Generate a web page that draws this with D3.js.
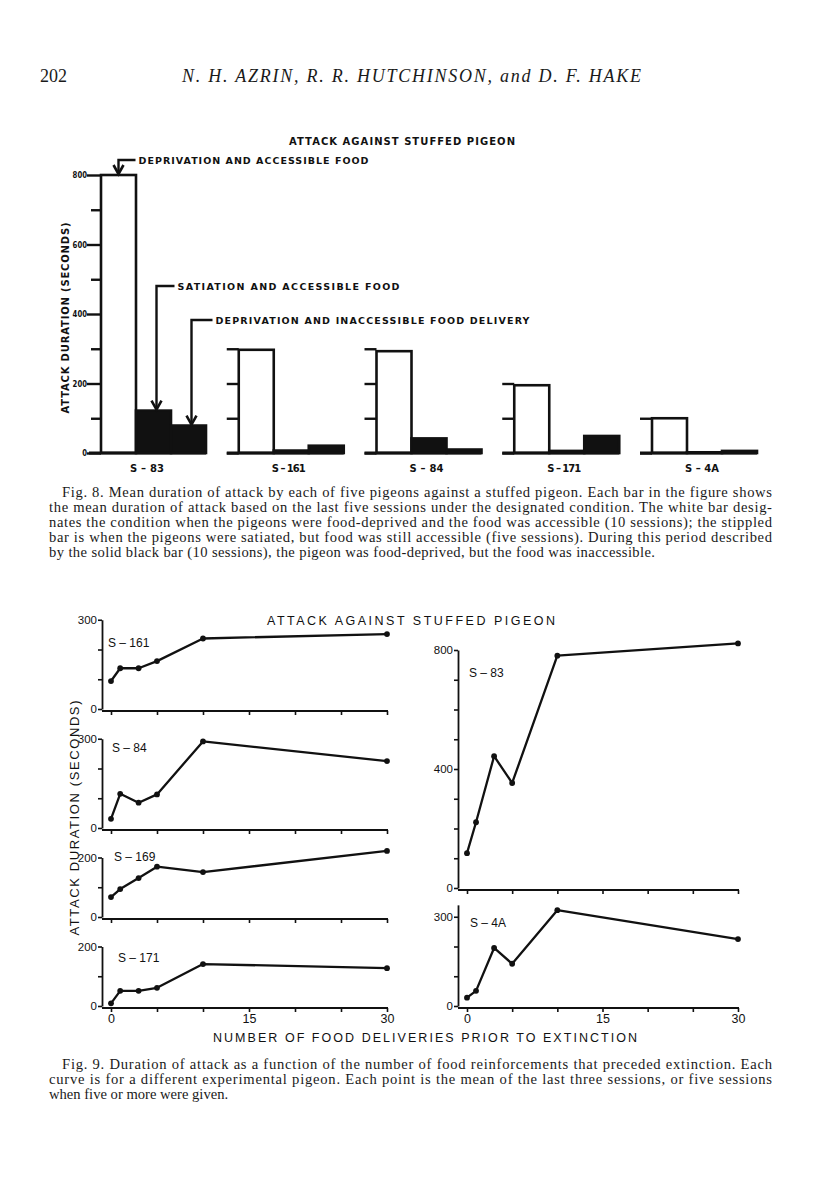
<!DOCTYPE html>
<html>
<head>
<meta charset="utf-8">
<script src="https://cdn.jsdelivr.net/npm/d3@7"></script>
<style>
    body { margin: 0; background: #fff; }
    .serif { font-family: "Liberation Serif", "DejaVu Serif", serif; fill: #1a1a1a; }
    .heavy { font-family: "DejaVu Sans", sans-serif; font-weight: bold; fill: #111; }
    .plain { font-family: "Liberation Sans", Arial, sans-serif; fill: #111; }
</style>
</head>
<body>
<script>
//page frame dimensions
var width = 816,
    height = 1200;

//fig. 8 data: mean attack duration (seconds) per subject and condition
var subjects8 = ["S – 83", "S – 161", "S – 84", "S – 171", "S – 4A"];
var conditions = ["DEPRIVATION AND ACCESSIBLE FOOD", "SATIATION AND ACCESSIBLE FOOD", "DEPRIVATION AND INACCESSIBLE FOOD DELIVERY"];
var deprivedAccessible = [800, 297, 293, 195, 100];
var satiatedAccessible = [122, 7, 42, 6, 2];
var deprivedInaccessible = [79, 21, 10, 49, 6];
var axisMax8 = [800, 300, 300, 200, 100];
var yTickLabels8 = [0, 200, 400, 600, 800];

//fig. 9 data: attack duration vs number of food deliveries before extinction
var deliveries = [0, 1, 3, 5, 10, 30];
var s161 = [94, 137, 137, 161, 237, 252];
var s84 = [31, 115, 85, 113, 291, 225];
var s169 = [67, 94, 131, 169, 151, 222];
var s171 = [9, 51, 51, 61, 141, 127];
var s83 = [117, 221, 443, 353, 781, 822];
var s4a = [28, 51, 195, 142, 322, 225];
var xTicks9 = [0, 5, 10, 15, 20, 25, 30];
var xTickLabels9 = [0, 15, 30];

//caption text
var caption8 = [
    "Fig. 8. Mean duration of attack by each of five pigeons against a stuffed pigeon. Each bar in the figure shows",
    "the mean duration of attack based on the last five sessions under the designated condition. The white bar desig-",
    "nates the condition when the pigeons were food-deprived and the food was accessible (10 sessions); the stippled",
    "bar is when the pigeons were satiated, but food was still accessible (five sessions). During this period described",
    "by the solid black bar (10 sessions), the pigeon was food-deprived, but the food was inaccessible."
];
var caption9 = [
    "Fig. 9. Duration of attack as a function of the number of food reinforcements that preceded extinction. Each",
    "curve is for a different experimental pigeon. Each point is the mean of the last three sessions, or five sessions",
    "when five or more were given."
];

//create svg container for the page
var svg = d3.select("body")
    .append("svg")
    .attr("width", width)
    .attr("height", height);

//running head
svg.append("text")
    .attr("class", "serif")
    .attr("x", 40).attr("y", 82)
    .attr("font-size", 18)
    .text("202");
svg.append("text")
    .attr("class", "serif")
    .attr("x", 182).attr("y", 82)
    .attr("font-size", 18)
    .attr("font-style", "italic")
    .attr("textLength", 459)
    .attr("lengthAdjust", "spacing")
    .text("N. H. AZRIN, R. R. HUTCHINSON, and D. F. HAKE");

/* ---------------- Fig. 8 ---------------- */
var fig8 = svg.append("g").attr("class", "fig8");

var y8 = d3.scaleLinear().domain([0, 800]).range([453, 175]);
var panel8 = d3.scalePoint().domain(subjects8).range([101, 652]);
var bar8 = d3.scaleBand().domain(conditions).range([0, 105]);

var series8 = subjects8.map(function(s, i){
    return {
        subject: s,
        max: axisMax8[i],
        values: [deprivedAccessible[i], satiatedAccessible[i], deprivedInaccessible[i]]
    };
});

fig8.append("text")
    .attr("class", "heavy")
    .attr("x", 289).attr("y", 145)
    .attr("font-size", 10)
    .attr("textLength", 226)
    .attr("lengthAdjust", "spacing")
    .text("ATTACK AGAINST STUFFED PIGEON");

fig8.append("text")
    .attr("class", "heavy")
    .attr("transform", "translate(69,318) rotate(-90)")
    .attr("text-anchor", "middle")
    .attr("font-size", 10)
    .attr("textLength", 191)
    .attr("lengthAdjust", "spacing")
    .text("ATTACK DURATION (SECONDS)");

var panels8 = fig8.selectAll(".panel8")
    .data(series8)
    .enter()
    .append("g")
    .attr("class", "panel8")
    .attr("transform", function(d){ return "translate(" + panel8(d.subject) + ",0)"; });

//tick marks every 100 s
panels8.each(function(d, i){
    var g = d3.select(this);
    var minor = d3.axisLeft(y8)
        .tickValues(d3.range(0, d.max + 1, 100).filter(function(v){ return i > 0 || yTickLabels8.indexOf(v) < 0; }))
        .tickSize(i == 0 ? 10 : 12)
        .tickFormat("");
    g.append("g").call(minor);
    if (i == 0){
        var major = d3.axisLeft(y8)
            .tickValues(yTickLabels8)
            .tickSize(14)
            .tickPadding(0);
        g.append("g").attr("class", "major8").call(major);
    }
    g.selectAll(".domain").remove();
    g.selectAll(".tick line").attr("stroke", "#111").attr("stroke-width", 2.4);
    g.selectAll(".tick text")
        .attr("class", "heavy")
        .attr("font-size", 9)
        .attr("textLength", function(v){ return String(v).length * 4.8; })
        .attr("lengthAdjust", "spacingAndGlyphs");
});

//bars: white = deprived/accessible, black = the other two conditions
panels8.selectAll(".bar8")
    .data(function(d){
        return d.values.map(function(v, j){ return {cond: conditions[j], value: v, j: j}; });
    })
    .enter()
    .append("rect")
    .attr("class", "bar8")
    .attr("x", function(d){ return bar8(d.cond); })
    .attr("y", function(d){ return y8(d.value); })
    .attr("width", bar8.bandwidth())
    .attr("height", function(d){ return y8(0) - y8(d.value); })
    .attr("fill", function(d){ return d.j == 0 ? "#fff" : "#111"; })
    .attr("stroke", "#111")
    .attr("stroke-width", 2.6);

//baseline
panels8.append("line")
    .attr("x1", -12).attr("x2", 105)
    .attr("y1", y8(0)).attr("y2", y8(0))
    .attr("stroke", "#111")
    .attr("stroke-width", 3.2);

panels8.append("text")
    .attr("class", "heavy")
    .attr("x", function(d, i){ return i == 0 ? 46 : 50; })
    .attr("y", 472)
    .attr("text-anchor", "middle")
    .attr("font-size", 10)
    .attr("textLength", 34)
    .attr("lengthAdjust", "spacing")
    .text(function(d){ return d.subject; });

//condition labels with elbow arrows pointing at the S-83 bars
var labelY8 = [164, 290, 324],
    elbowLen = [17, 18, 21],
    arrowShift = [0, 3, 3],
    labelLen = [230, 222, 314];

conditions.forEach(function(c, j){
    var ax = panel8(subjects8[0]) + bar8(c) + bar8.bandwidth() / 2 + arrowShift[j],
        tip = y8(series8[0].values[j]) - 1,
        ly = labelY8[j] - 4;
    fig8.append("path")
        .attr("d", "M" + (ax + elbowLen[j]) + "," + ly + "H" + ax + "V" + tip)
        .attr("fill", "none")
        .attr("stroke", "#111")
        .attr("stroke-width", 2.4);
    fig8.append("path")
        .attr("d", "M" + (ax - 5) + "," + (tip - 9) + "L" + ax + "," + tip + "L" + (ax + 5) + "," + (tip - 9))
        .attr("fill", "none")
        .attr("stroke", "#111")
        .attr("stroke-width", 2.6);
    fig8.append("text")
        .attr("class", "heavy")
        .attr("x", ax + elbowLen[j] + 3)
        .attr("y", labelY8[j])
        .attr("font-size", 9.5)
        .attr("textLength", labelLen[j])
        .attr("lengthAdjust", "spacing")
        .text(c);
});

//caption lines: full lines justified, last line at its printed width (or natural)
function drawCaption(lines, top, lastLen){
    svg.selectAll(null)
        .data(lines)
        .enter()
        .append("text")
        .attr("class", "serif")
        .attr("font-size", 14.6)
        .attr("x", function(d, i){ return i == 0 ? 62 : 49; })
        .attr("y", function(d, i){ return top + i * 15; })
        .attr("textLength", function(d, i){
            if (i == lines.length - 1) return lastLen;
            return i == 0 ? 710 : 723;
        })
        .attr("lengthAdjust", "spacing")
        .text(function(d){ return d; });
}
drawCaption(caption8, 497, 606);

/* ---------------- Fig. 9 ---------------- */
var fig9 = svg.append("g").attr("class", "fig9");

var pxPerUnit = 0.2975;
var colX = [
    {axis: 102, x: d3.scaleLinear().domain([0, 30]).range([111, 387])},
    {axis: 458, x: d3.scaleLinear().domain([0, 30]).range([467, 738])}
];

var layout9 = [
    {name: "S – 161", values: s161, col: 0, zero: 709, max: 300, top: 300, labels: [0, 300], lx: 108, ly: 647, bottom: false},
    {name: "S – 84",  values: s84,  col: 0, zero: 828, max: 300, top: 300, labels: [0, 300], lx: 112, ly: 752, bottom: false},
    {name: "S – 169", values: s169, col: 0, zero: 917, max: 200, top: 200, labels: [0, 200], lx: 114, ly: 861, bottom: false},
    {name: "S – 171", values: s171, col: 0, zero: 1006, max: 200, top: 200, labels: [0, 200], lx: 118, ly: 962, bottom: true},
    {name: "S – 83",  values: s83,  col: 1, zero: 888, max: 800, top: 800, labels: [0, 400, 800], lx: 469, ly: 677, bottom: false},
    {name: "S – 4A",  values: s4a,  col: 1, zero: 1006, max: 300, top: 340, labels: [0, 300], lx: 470, ly: 927, bottom: true}
];

layout9.forEach(function(p){
    var col = colX[p.col],
        x = col.x,
        y = d3.scaleLinear().domain([0, p.top]).range([p.zero, p.zero - p.top * pxPerUnit]);
    var g = fig9.append("g");

    //y axis
    var yAxis = d3.axisLeft(y)
        .tickValues(d3.range(0, p.max + 1, 100))
        .tickSize(4)
        .tickSizeOuter(0)
        .tickPadding(1)
        .tickFormat(function(v){ return p.labels.indexOf(v) >= 0 ? v : ""; });
    g.append("g")
        .attr("transform", "translate(" + col.axis + ",0)")
        .call(yAxis);

    //x axis
    var xAxis = d3.axisBottom(x)
        .tickValues(xTicks9)
        .tickSize(4)
        .tickSizeOuter(0)
        .tickPadding(2)
        .tickFormat(function(v){ return p.bottom && xTickLabels9.indexOf(v) >= 0 ? v : ""; });
    var xg = g.append("g")
        .attr("transform", "translate(0," + (p.zero + 2) + ")")
        .call(xAxis);
    xg.select(".domain").remove();
    xg.append("line")
        .attr("x1", col.axis).attr("x2", x(30) + 1)
        .attr("stroke", "#111")
        .attr("stroke-width", 1.8);

    g.selectAll(".domain").attr("stroke", "#111").attr("stroke-width", 1.8);
    g.selectAll(".tick line").attr("stroke", "#111").attr("stroke-width", 1.6);
    g.selectAll(".tick text")
        .attr("class", "plain")
        .attr("font-size", 11.5);
    xg.selectAll(".tick text").attr("font-size", 12.5);

    //curve
    var line = d3.line()
        .x(function(d, i){ return x(deliveries[i]); })
        .y(function(d){ return y(d); });
    g.append("path")
        .datum(p.values)
        .attr("d", line)
        .attr("fill", "none")
        .attr("stroke", "#111")
        .attr("stroke-width", 2.3)
        .attr("stroke-linejoin", "round");
    g.selectAll(".dot")
        .data(p.values)
        .enter()
        .append("circle")
        .attr("class", "dot")
        .attr("cx", function(d, i){ return x(deliveries[i]); })
        .attr("cy", function(d){ return y(d); })
        .attr("r", 2.9)
        .attr("fill", "#111");

    //subject label
    g.append("text")
        .attr("class", "plain")
        .attr("x", p.lx).attr("y", p.ly)
        .attr("font-size", 12)
        .text(p.name);
});

fig9.append("text")
    .attr("class", "plain")
    .attr("x", 267).attr("y", 625)
    .attr("font-size", 12.5)
    .attr("textLength", 288)
    .attr("lengthAdjust", "spacing")
    .text("ATTACK AGAINST STUFFED PIGEON");

fig9.append("text")
    .attr("class", "plain")
    .attr("transform", "translate(79,818) rotate(-90)")
    .attr("text-anchor", "middle")
    .attr("font-size", 13)
    .attr("textLength", 235)
    .attr("lengthAdjust", "spacing")
    .text("ATTACK DURATION (SECONDS)");

fig9.append("text")
    .attr("class", "plain")
    .attr("x", 213).attr("y", 1042)
    .attr("font-size", 12.5)
    .attr("textLength", 424)
    .attr("lengthAdjust", "spacing")
    .text("NUMBER OF FOOD DELIVERIES PRIOR TO EXTINCTION");

drawCaption(caption9, 1069, null);
</script>
</body>
</html>
